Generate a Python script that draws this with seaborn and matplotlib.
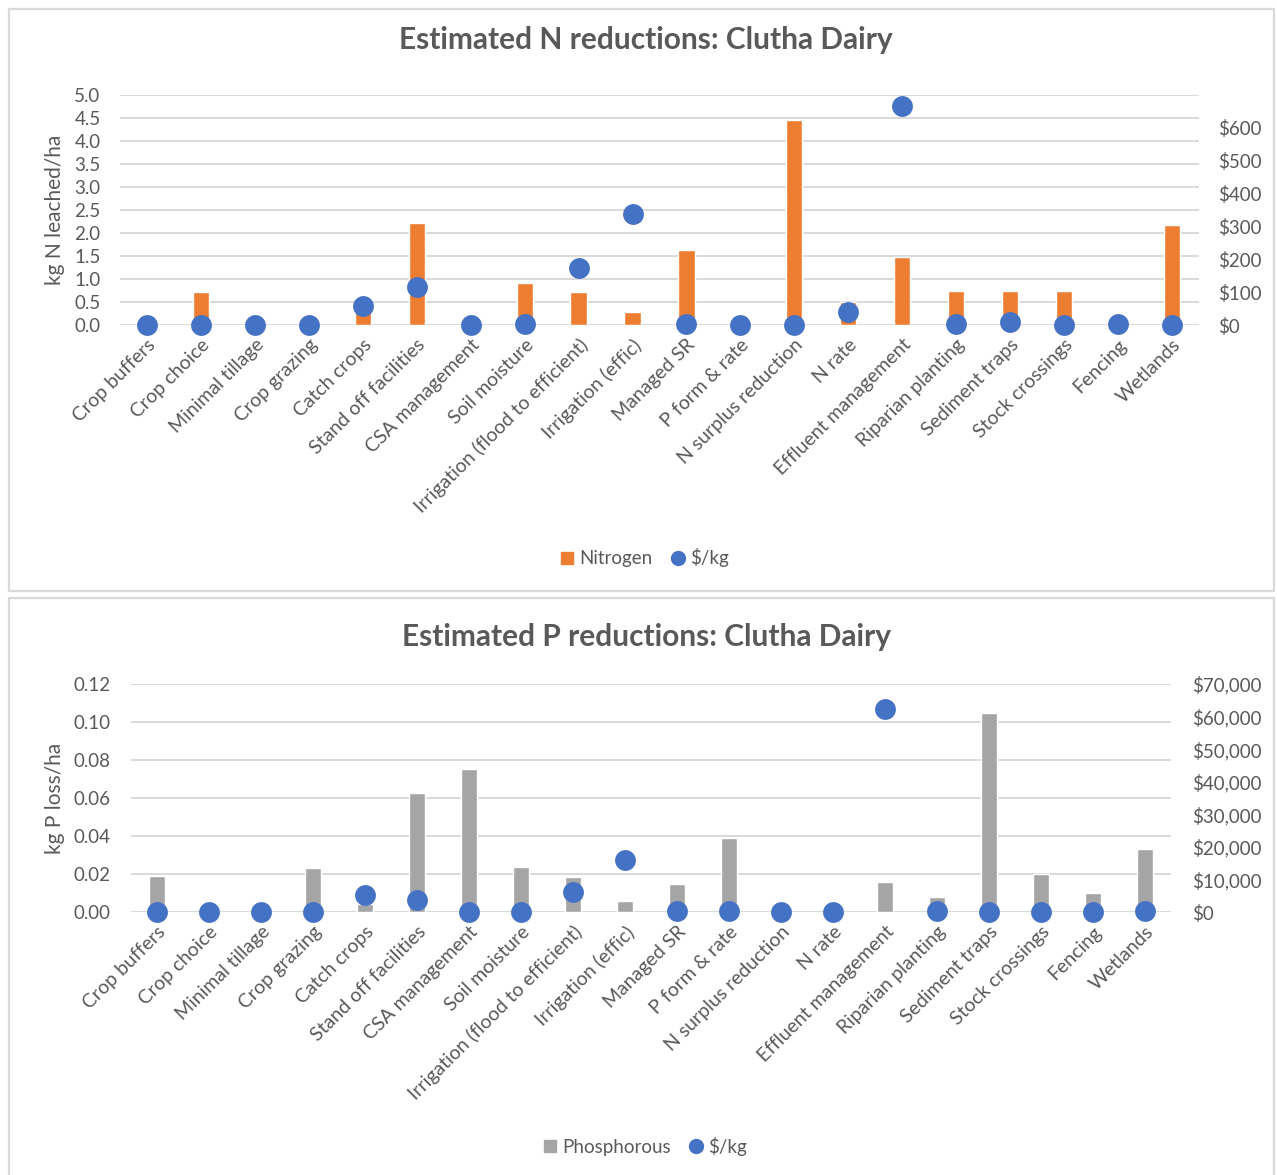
import numpy as np
import matplotlib
matplotlib.use("Agg")
import matplotlib.pyplot as plt
import seaborn as sns
from matplotlib.lines import Line2D
from matplotlib.patches import Rectangle
from matplotlib.ticker import FixedLocator, FuncFormatter

# Mitigation options (shared by both charts)
categories = [
    "Crop buffers", "Crop choice", "Minimal tillage", "Crop grazing", "Catch crops",
    "Stand off facilities", "CSA management", "Soil moisture",
    "Irrigation (flood to efficient)", "Irrigation (effic)", "Managed SR",
    "P form & rate", "N surplus reduction", "N rate", "Effluent management",
    "Riparian planting", "Sediment traps", "Stock crossings", "Fencing", "Wetlands",
]

# Nitrogen: kg N leached/ha reduction and cost ($/kg N)
nitrogen = [0.0, 0.72, 0.0, 0.0, 0.35, 2.22, 0.0, 0.91, 0.72, 0.28,
            1.62, 0.0, 4.45, 0.51, 1.47, 0.75, 0.75, 0.75, 0.0, 2.17]
n_cost = [0, 0, 0, 0, 58, 116, 0, 2, 174, 337,
          2, 0, 0, 41, 666, 2, 8, 0, 3, 0]

# Phosphorous: kg P loss/ha reduction and cost ($/kg P)
phosphorous = [0.019, 0.0, 0.0, 0.023, 0.004, 0.0625, 0.0753, 0.0238, 0.0186, 0.0058,
               0.0149, 0.0392, 0.0, 0.0, 0.0156, 0.0079, 0.1048, 0.0198, 0.0098, 0.0333]
p_cost = [0, 0, 0, 0, 5100, 3700, 0, 0, 6100, 16000,
          300, 300, 0, 0, 62300, 300, 0, 0, 0, 300]

ORANGE = "#ED7D31"
BLUE = "#4472C4"
GREY = "#A5A5A5"
TEXT = "#595959"
GRID = "#D9D9D9"

sns.set_theme(style="white")
plt.rcParams["font.family"] = ["Lato", "DejaVu Sans"]

W, H = 1277, 1175
fig = plt.figure(figsize=(W / 100, H / 100), dpi=100)


def fx(x):
    return x / W


def fy(y):
    return 1 - y / H


def px_axes(left, top, right, bottom):
    return fig.add_axes([fx(left), fy(bottom), (right - left) / W, (bottom - top) / H])


# Chart-area frames
for top, bottom in [(9, 591), (598, 1185)]:
    fig.patches.append(Rectangle((fx(9), fy(bottom)), (1274 - 9) / W, (bottom - top) / H,
                                 transform=fig.transFigure, fill=False,
                                 edgecolor=GRID, linewidth=1.6))


def draw_panel(box, values, costs, bar_color, yticks, yfmt, cticks, cmax,
               title, title_y, ylabel, ylabel_y, series_name, legend_y, pad):
    ax = px_axes(*box)
    sns.barplot(x=categories, y=values, ax=ax, color=bar_color, width=0.3,
                saturation=1, zorder=2)
    ax.set_ylim(0, yticks[-1])
    ax.yaxis.set_major_locator(FixedLocator(yticks))
    ax.yaxis.set_major_formatter(FuncFormatter(lambda v, p: yfmt.format(v)))
    ax.yaxis.grid(True, color=GRID, linewidth=1.4)
    ax.xaxis.grid(False)
    ax.set_axisbelow(True)

    ax2 = ax.twinx()
    sns.stripplot(x=categories, y=costs, ax=ax2, jitter=False, color=BLUE,
                  size=15, linewidth=0)
    for coll in ax2.collections:
        coll.set_clip_on(False)
    ax2.set_ylim(0, cmax)
    ax2.yaxis.set_major_locator(FixedLocator(cticks))
    ax2.yaxis.set_major_formatter(FuncFormatter(lambda v, p: "${:,.0f}".format(v)))
    ax2.grid(False)

    ax.set_xlim(-0.5, len(categories) - 0.5)
    ax.set_xticks(range(len(categories)))
    ax.set_xticklabels(categories, rotation=45, ha="right", va="top",
                       rotation_mode="anchor")
    for a in (ax, ax2):
        for s in a.spines.values():
            s.set_visible(False)
        a.set_xlabel("")
        a.set_ylabel("")
        a.tick_params(axis="both", length=0, labelcolor=TEXT, labelsize=13.5)
    ax.tick_params(axis="x", labelsize=14, pad=8)
    ax.tick_params(axis="y", pad=pad)
    ax2.tick_params(axis="y", pad=pad)

    fig.text(fx(646), fy(title_y), title, ha="center", va="center",
             fontsize=21.5, fontweight="bold", color=TEXT)
    fig.text(fx(55), fy(ylabel_y), ylabel, rotation=90, ha="center", va="center",
             fontsize=15, color=TEXT)

    handles = [
        Line2D([], [], marker="s", linestyle="", color=bar_color, markersize=9),
        Line2D([], [], marker="o", linestyle="", color=BLUE, markersize=10),
    ]
    fig.legend(handles, [series_name, "$/kg"], loc="center",
               bbox_to_anchor=(fx(645), fy(legend_y)), ncol=2, frameon=False,
               fontsize=13.5, handlelength=0.7, handletextpad=0.3,
               columnspacing=1.0, labelcolor=TEXT)
    return ax, ax2


draw_panel((120, 95, 1199, 325), nitrogen, n_cost, ORANGE,
           [0.0, 0.5, 1.0, 1.5, 2.0, 2.5, 3.0, 3.5, 4.0, 4.5, 5.0], "{:.1f}",
           [0, 100, 200, 300, 400, 500, 600], 700,
           "Estimated N reductions: Clutha Dairy", 40,
           "kg N leached/ha", 210, "Nitrogen", 558, 14)

draw_panel((131, 684, 1171, 912), phosphorous, p_cost, GREY,
           [0.0, 0.02, 0.04, 0.06, 0.08, 0.10, 0.12], "{:.2f}",
           [0, 10000, 20000, 30000, 40000, 50000, 60000, 70000], 70000,
           "Estimated P reductions: Clutha Dairy", 637,
           "kg P loss/ha", 798, "Phosphorous", 1146, 15)

fig.savefig("out.png", dpi=100)
